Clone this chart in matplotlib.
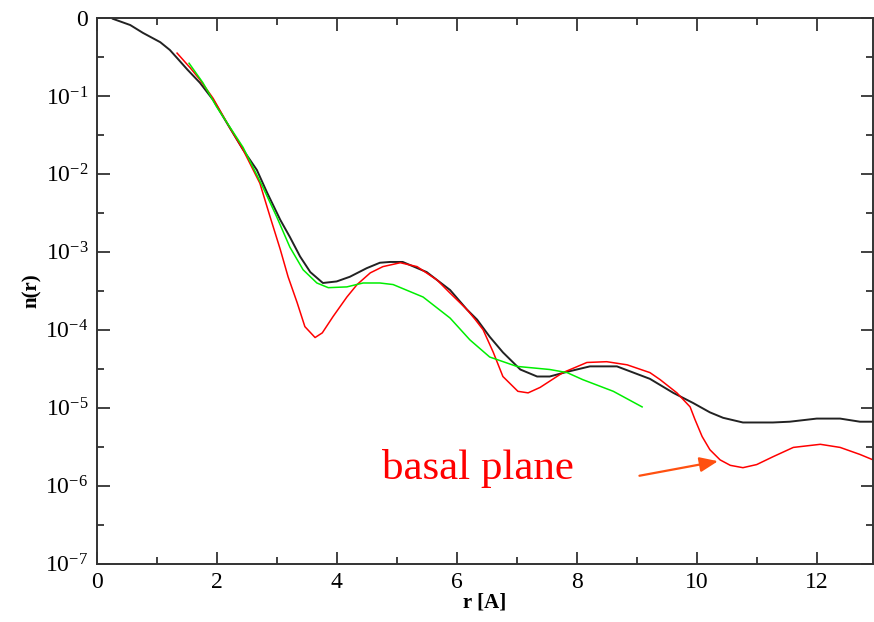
import numpy as np
import matplotlib
matplotlib.use("Agg")
import matplotlib.pyplot as plt
from matplotlib.ticker import FixedLocator, FuncFormatter

plt.rcParams['font.family'] = ['Liberation Serif', 'DejaVu Serif']
plt.rcParams['mathtext.fontset'] = 'custom'
plt.rcParams['mathtext.rm'] = 'Liberation Serif'

# n(r) curves, stored as (r, log10 n)
r_black = [0.27, 0.56, 0.77, 1.06, 1.22, 1.36, 1.51, 1.72, 1.94, 2.22, 2.44, 2.67,
           2.84, 3.06, 3.22, 3.39, 3.56, 3.77, 4.0, 4.22, 4.5, 4.72, 4.89, 5.1, 5.5,
           5.89, 6.17, 6.34, 6.55, 6.77, 7.06, 7.34, 7.55, 7.84, 8.22, 8.67, 9.22,
           9.61, 9.94, 10.22, 10.44, 10.77, 11.27, 11.55, 12.0, 12.39, 12.72, 12.94]
logn_black = [-0.01, -0.09, -0.19, -0.31, -0.41, -0.53, -0.66, -0.83, -1.05, -1.41,
              -1.69, -1.95, -2.24, -2.59, -2.81, -3.06, -3.26, -3.40, -3.38, -3.32,
              -3.21, -3.14, -3.13, -3.13, -3.26, -3.49, -3.74, -3.87, -4.09, -4.29,
              -4.51, -4.60, -4.60, -4.54, -4.47, -4.47, -4.63, -4.81, -4.94, -5.06,
              -5.13, -5.19, -5.19, -5.18, -5.14, -5.14, -5.18, -5.18]

r_red = [1.34, 1.56, 1.72, 1.94, 2.22, 2.44, 2.72, 2.89, 3.06, 3.19, 3.34, 3.47, 3.64,
         3.76, 3.94, 4.17, 4.34, 4.56, 4.77, 5.06, 5.34, 5.67, 5.89, 6.17, 6.31, 6.44,
         6.61, 6.77, 7.02, 7.19, 7.39, 7.77, 8.17, 8.5, 8.84, 9.22, 9.39, 9.67, 9.89,
         9.97, 10.09, 10.22, 10.39, 10.56, 10.77, 11.0, 11.27, 11.61, 12.06, 12.39,
         12.72, 12.94]
logn_red = [-0.45, -0.64, -0.79, -1.03, -1.41, -1.69, -2.12, -2.55, -2.97, -3.32, -3.65,
            -3.96, -4.10, -4.04, -3.83, -3.58, -3.42, -3.27, -3.19, -3.14, -3.19, -3.36,
            -3.53, -3.74, -3.87, -4.0, -4.29, -4.60, -4.79, -4.81, -4.74, -4.55, -4.42,
            -4.41, -4.45, -4.55, -4.64, -4.81, -4.99, -5.15, -5.37, -5.54, -5.67, -5.74,
            -5.77, -5.73, -5.63, -5.51, -5.47, -5.51, -5.60, -5.67]

r_green = [1.54, 1.77, 2.0, 2.28, 2.44, 2.77, 3.0, 3.22, 3.44, 3.67, 3.86, 4.17, 4.44,
           4.72, 4.94, 5.44, 5.89, 6.22, 6.55, 7.0, 7.55, 7.84, 8.1, 8.61, 9.09]
logn_green = [-0.58, -0.83, -1.14, -1.47, -1.66, -2.17, -2.55, -2.94, -3.23, -3.40,
              -3.46, -3.45, -3.40, -3.40, -3.42, -3.58, -3.85, -4.13, -4.35, -4.47,
              -4.51, -4.55, -4.64, -4.79, -4.99]

fig = plt.figure(figsize=(8.74, 6.22), dpi=100)
ax = fig.add_axes([0.1106, 0.094, 0.8884, 0.877])

ax.plot(r_black, 10 ** np.array(logn_black), color='#222222', lw=1.4)
ax.plot(r_red, 10 ** np.array(logn_red), color='#ff0000', lw=1.1)
ax.plot(r_green, 10 ** np.array(logn_green), color='#00ee00', lw=1.1)

ax.set_yscale('log')
ax.set_xlim(0, 12.94)
ax.set_ylim(1e-7, 1)

ax.xaxis.set_major_locator(FixedLocator([0, 2, 4, 6, 8, 10, 12]))
ax.xaxis.set_minor_locator(FixedLocator([1, 3, 5, 7, 9, 11]))
ax.yaxis.set_major_locator(FixedLocator([10.0 ** k for k in range(-7, 1)]))
ax.yaxis.set_minor_locator(FixedLocator([10.0 ** (k + 0.5) for k in range(-7, 0)]))


def decade(v, pos):
    k = int(round(np.log10(v)))
    if k == 0:
        return '0'
    return r'$\mathregular{10^{%d}}$' % k


ax.yaxis.set_major_formatter(FuncFormatter(decade))
ax.yaxis.set_minor_formatter(FuncFormatter(lambda v, p: ''))

ax.tick_params(which='both', direction='in', top=True, right=True,
               labelsize=17, width=1.3, color='#333333', pad=6)
ax.tick_params(which='major', length=9)
ax.tick_params(which='minor', length=5)
for s in ax.spines.values():
    s.set_linewidth(1.4)
    s.set_color('#333333')

ax.set_xlabel('r [A]', fontsize=15, fontweight='bold', labelpad=0)
ax.set_ylabel('n(r)', fontsize=15, fontweight='bold', labelpad=2)

ax.text(6.35, 10 ** -5.92, 'basal plane', color='#ff0000', fontsize=31,
        ha='center', va='baseline')
ax.annotate('', xy=(10.4, 10 ** -5.68), xytext=(9.0, 10 ** -5.88),
            arrowprops=dict(arrowstyle='-|>,head_length=1.1,head_width=0.45',
                            color='#ff5010', lw=1.6))

fig.savefig('out.png', dpi=100)
